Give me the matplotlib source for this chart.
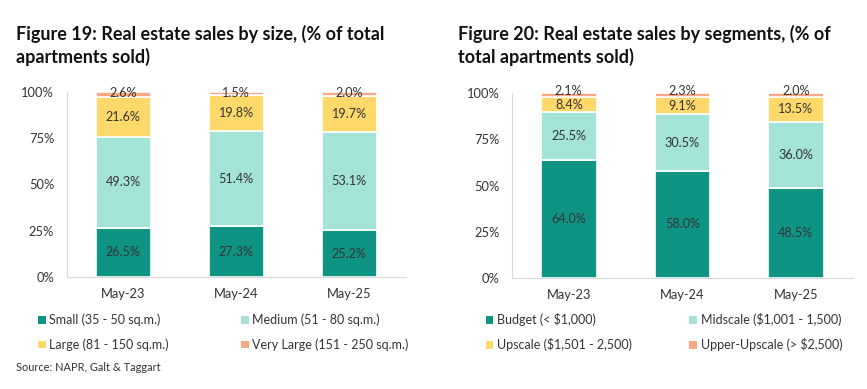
import numpy as np
import matplotlib
matplotlib.use('Agg')
import matplotlib.pyplot as plt
from matplotlib.patches import Patch

plt.rcParams['font.family'] = ['Lato', 'DejaVu Sans']

years = ['May-23', 'May-24', 'May-25']

# Figure 19: by size
small = [26.5, 27.3, 25.2]
medium = [49.3, 51.4, 53.1]
large = [21.6, 19.8, 19.7]
very_large = [2.6, 1.5, 2.0]
size_labels = ['Small (35 - 50 sq.m.)', 'Medium (51 - 80 sq.m.)',
               'Large (81 - 150 sq.m.)', 'Very Large (151 - 250 sq.m.)']

# Figure 20: by segment
budget = [64.0, 58.0, 48.5]
midscale = [25.5, 30.5, 36.0]
upscale = [8.4, 9.1, 13.5]
upper_upscale = [2.1, 2.3, 2.0]
segment_labels = ['Budget (< $1,000)', 'Midscale ($1,001 - 1,500)',
                  'Upscale ($1,501 - 2,500)', 'Upper-Upscale (> $2,500)']

colors = ['#0f9484', '#a3e3d8', '#fdd96b', '#f5a882']
text_color = '#333333'
grid_color = '#d9d9d9'

fig = plt.figure(figsize=(8.67, 3.89), dpi=100)

def draw(ax, series, labels, title, title_x, legend_x, col2_x, top_y):
    x = np.arange(len(years))
    bottom = np.zeros(len(years))
    for i, vals in enumerate(series):
        vals = np.array(vals)
        ax.bar(x, vals, 0.49, bottom=bottom, color=colors[i], edgecolor='white', linewidth=1.2)
        for xi, b, v in zip(x, bottom, vals):
            if i == len(series) - 1:
                y = top_y
            else:
                y = b + v / 2
            ax.text(xi, y, f'{v:.1f}%', ha='center', va='center', fontsize=9.1, color=text_color)
        bottom += vals
    ax.set_xlim(-0.5, 2.5)
    ax.set_ylim(0, 100)
    ax.set_yticks([0, 25, 50, 75, 100])
    ax.set_yticklabels(['0%', '25%', '50%', '75%', '100%'])
    ax.set_xticks(x)
    ax.set_xticklabels(years)
    ax.tick_params(axis='both', length=0, labelsize=9.3, colors=text_color)
    ax.tick_params(axis='y', pad=9)
    ax.tick_params(axis='x', pad=8)
    for s in ['top', 'right']:
        ax.spines[s].set_visible(False)
    ax.spines['left'].set_color(grid_color)
    ax.spines['bottom'].set_color(grid_color)
    fig.text(title_x, 0.935, title, fontsize=13, fontweight='bold',
             va='top', ha='left', color='#111111', linespacing=1.3)
    # legend in two columns
    for i, lab in enumerate(labels):
        col = i % 2
        row = i // 2
        lx = legend_x if col == 0 else col2_x
        ly = 0.178 - row * 0.064
        fig.legend(handles=[Patch(facecolor=colors[i], edgecolor='none')], labels=[lab],
                   loc='center left', bbox_to_anchor=(lx, ly), frameon=False,
                   fontsize=9.0, handlelength=0.6, handleheight=0.6, handletextpad=0.3,
                   borderpad=0, borderaxespad=0, labelcolor=text_color)

ax1 = fig.add_axes([0.077, 0.288, 0.391, 0.476])
draw(ax1, [small, medium, large, very_large], size_labels,
     'Figure 19: Real estate sales by size, (% of total\napartments sold)', 0.018, 0.044, 0.278, 99.2)

ax2 = fig.add_axes([0.5905, 0.285, 0.393, 0.476])
draw(ax2, [budget, midscale, upscale, upper_upscale], segment_labels,
     'Figure 20: Real estate sales by segments, (% of\ntotal apartments sold)', 0.528, 0.560, 0.795, 101.2)

fig.text(0.019, 0.055, 'Source: NAPR, Galt & Taggart', fontsize=7.9, color=text_color, va='center')

fig.savefig('out.png', dpi=100)
